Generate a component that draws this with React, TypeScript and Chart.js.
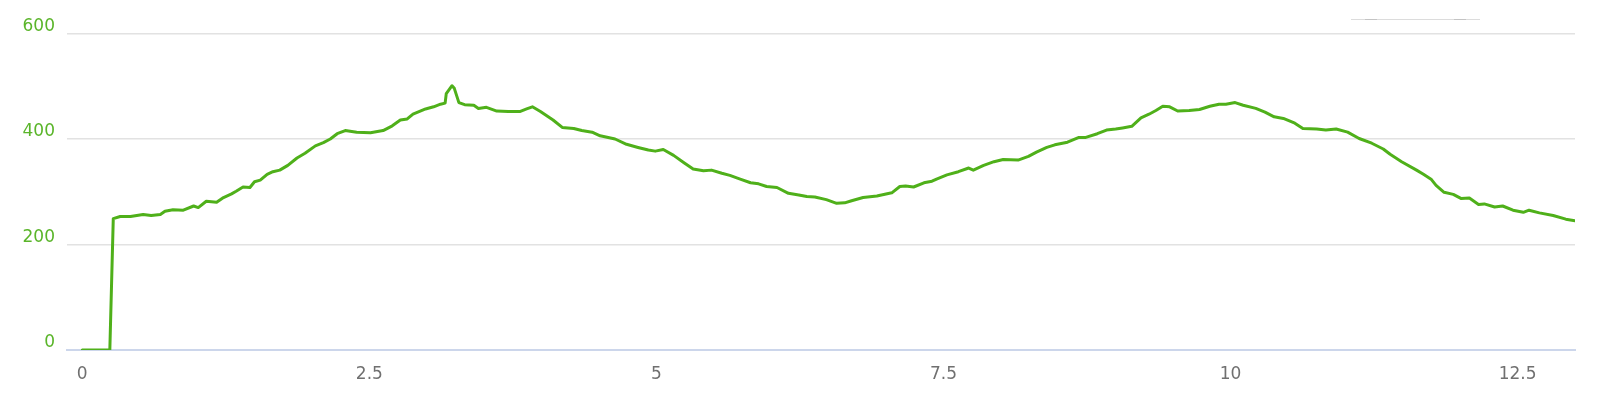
import React, { useEffect, useRef } from "react";
import { Chart, registerables } from "chart.js";

Chart.register(...registerables);

// distance (km) along the route
const distances: number[] = [
  0.0, 0.24, 0.27, 0.33, 0.42, 0.53, 0.6, 0.68, 0.72, 0.79, 0.88, 0.97, 1.01, 1.08, 1.17, 1.23, 1.3, 1.34, 1.4, 1.46,
  1.5, 1.55, 1.61, 1.66, 1.72, 1.79, 1.87, 1.94, 2.03, 2.1, 2.16, 2.22, 2.29, 2.39, 2.51, 2.62, 2.7, 2.77, 2.83, 2.88,
  2.99, 3.06, 3.12, 3.16, 3.17, 3.22, 3.24, 3.28, 3.33, 3.41, 3.45, 3.52, 3.61, 3.71, 3.81, 3.87, 3.92, 3.99, 4.1, 4.18,
  4.28, 4.35, 4.44, 4.51, 4.64, 4.74, 4.84, 4.93, 4.99, 5.06, 5.15, 5.24, 5.32, 5.41, 5.48, 5.57, 5.64, 5.73, 5.82, 5.89,
  5.96, 6.05, 6.15, 6.24, 6.31, 6.38, 6.48, 6.57, 6.64, 6.7, 6.8, 6.92, 7.05, 7.12, 7.17, 7.24, 7.33, 7.4, 7.44, 7.53,
  7.63, 7.72, 7.76, 7.85, 7.94, 8.02, 8.15, 8.24, 8.31, 8.4, 8.47, 8.58, 8.68, 8.74, 8.84, 8.92, 9.0, 9.06, 9.14, 9.22,
  9.29, 9.35, 9.41, 9.47, 9.54, 9.64, 9.73, 9.82, 9.9, 9.96, 10.04, 10.11, 10.22, 10.3, 10.38, 10.46, 10.56, 10.63, 10.75, 10.83,
  10.92, 11.02, 11.12, 11.23, 11.33, 11.39, 11.49, 11.62, 11.68, 11.75, 11.79, 11.86, 11.94, 12.01, 12.08, 12.16, 12.21, 12.3, 12.37, 12.46,
  12.55, 12.6, 12.69, 12.81, 12.92, 13.0,
];

// elevation (m)
const elevations: number[] = [
  0, 0, 249, 253, 253, 257, 255, 257, 263, 266, 265, 273, 270, 282, 280, 289, 296, 301, 309, 308,
  319, 322, 333, 338, 341, 350, 364, 373, 387, 393, 400, 410, 416, 413, 412, 416, 425, 436, 438, 447,
  457, 461, 466, 468, 486, 501, 496, 469, 465, 464, 458, 460, 453, 452, 452, 457, 461, 452, 436, 422,
  420, 416, 413, 406, 400, 390, 384, 379, 377, 380, 369, 355, 343, 340, 341, 335, 331, 324, 317, 315,
  310, 308, 297, 294, 291, 290, 285, 278, 279, 283, 289, 292, 298, 310, 311, 309, 317, 320, 324, 332,
  338, 345, 341, 350, 357, 361, 360, 367, 375, 384, 389, 394, 403, 403, 410, 417, 419, 421, 424, 440,
  447, 454, 462, 461, 453, 454, 456, 462, 466, 466, 469, 464, 458, 451, 442, 439, 430, 420, 419, 417,
  419, 413, 401, 392, 381, 371, 357, 341, 333, 323, 312, 299, 295, 287, 288, 276, 277, 271, 273, 265,
  261, 265, 260, 255, 248, 245,
];

const xTicks: number[] = [0, 2.5, 5, 7.5, 10, 12.5];
const yTicks: number[] = [0, 200, 400, 600];

const GREEN = "#4fb01a";
const LABEL_GREEN = "#5ab52a";
const FONT = "'DejaVu Sans', Verdana, sans-serif";

const topRightBar = {
  id: "topRightBar",
  afterDraw(chart: any) {
    const { ctx, chartArea } = chart;
    const x0 = chartArea.right - 224;
    const x1 = chartArea.right - 95;
    const y = 19.5;
    ctx.save();
    ctx.lineWidth = 1;
    ctx.strokeStyle = "#dcdcdc";
    ctx.beginPath();
    ctx.moveTo(x0, y);
    ctx.lineTo(x1, y);
    ctx.stroke();
    ctx.strokeStyle = "#c4c4c4";
    ctx.beginPath();
    ctx.moveTo(x0 + 14, y);
    ctx.lineTo(x0 + 26, y);
    ctx.moveTo(x1 - 26, y);
    ctx.lineTo(x1 - 14, y);
    ctx.stroke();
    ctx.restore();
  },
};

export default function App() {
  const canvasRef = useRef<HTMLCanvasElement | null>(null);

  useEffect(() => {
    const canvas = canvasRef.current;
    if (!canvas) return;
    const points = distances.map((d, i) => ({ x: d, y: elevations[i] }));
    const chart = new Chart(canvas, {
      type: "line",
      data: {
        datasets: [
          {
            data: points,
            borderColor: GREEN,
            borderWidth: 3,
            pointRadius: 0,
            pointHoverRadius: 0,
            tension: 0,
            fill: false,
            borderJoinStyle: "round",
            borderCapStyle: "round",
          },
        ],
      },
      options: {
        animation: false,
        responsive: false,
        devicePixelRatio: 1,
        layout: { padding: { top: 33.5, right: 41, left: 0, bottom: 0 } },
        plugins: {
          legend: { display: false },
          tooltip: { enabled: false },
        },
        scales: {
          x: {
            type: "linear",
            min: -0.133,
            max: 13.0,
            afterBuildTicks: (scale: any) => {
              scale.ticks = xTicks.map((v) => ({ value: v }));
            },
            afterFit: (scale: any) => {
              scale.height = 54;
            },
            grid: { display: false, drawTicks: false },
            border: { display: true, color: "#ccd6eb", width: 2 },
            ticks: {
              padding: 14,
              color: "#707070",
              font: { family: FONT, size: 17 },
              maxRotation: 0,
              autoSkip: false,
              callback: (v: any) => String(v),
            },
          },
          y: {
            min: 0,
            max: 600,
            afterBuildTicks: (scale: any) => {
              scale.ticks = yTicks.map((v) => ({ value: v }));
            },
            afterFit: (scale: any) => {
              scale.width = 67;
            },
            border: { display: false },
            grid: {
              drawTicks: false,
              lineWidth: 1.5,
              color: (c: any) => (c.tick && c.tick.value === 0 ? "rgba(0,0,0,0)" : "#e2e2e2"),
            },
            ticks: {
              padding: 12,
              labelOffset: -7,
              color: LABEL_GREEN,
              font: { family: FONT, size: 17 },
              callback: (v: any) => String(v),
            },
          },
        },
      },
      plugins: [topRightBar],
    });
    return () => chart.destroy();
  }, []);

  return (
    <div style={{ position: "absolute", left: 0, top: 0, width: 1616, height: 404, background: "#fff" }}>
      <canvas ref={canvasRef} width={1616} height={404} style={{ width: 1616, height: 404, display: "block" }} />
    </div>
  );
}
